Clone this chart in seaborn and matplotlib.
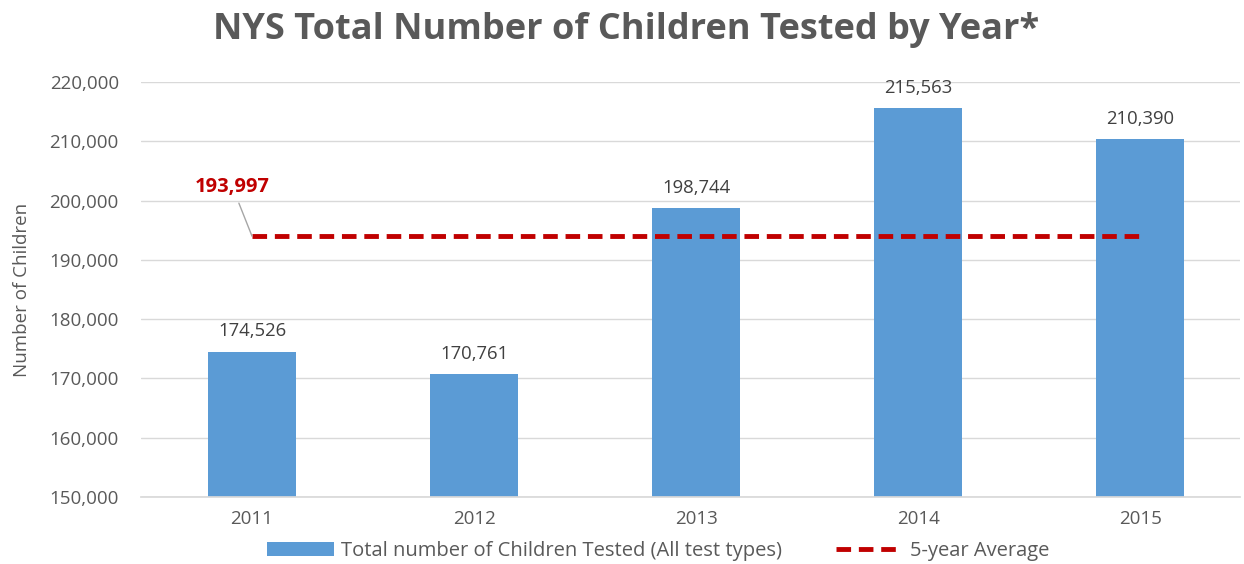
import matplotlib
matplotlib.use("Agg")
import matplotlib.pyplot as plt
import seaborn as sns
import pandas as pd
from matplotlib.ticker import FuncFormatter
from matplotlib.lines import Line2D
from matplotlib.patches import Patch

years = ["2011", "2012", "2013", "2014", "2015"]
tested = [174526, 170761, 198744, 215563, 210390]
five_year_avg = 193997
y_ticks = [150000, 160000, 170000, 180000, 190000, 200000, 210000, 220000]

bar_label = "Total number of Children Tested (All test types)"
avg_label = "5-year Average"
title = "NYS Total Number of Children Tested by Year*"

sns.set_theme(style="white")
plt.rcParams["font.family"] = ["Open Sans", "DejaVu Sans"]

GRAY = "#595959"
BLUE = "#5B9BD5"
RED = "#C00000"

df = pd.DataFrame({"year": years, "tested": tested})

fig = plt.figure(figsize=(12.44, 5.64), dpi=100)
ax = fig.add_axes([141 / 1244, 1 - 497 / 564, (1240 - 141) / 1244, (497 - 82) / 564])

sns.barplot(data=df, x="year", y="tested", color=BLUE, width=0.4,
            saturation=1, linewidth=0, ax=ax, zorder=2)

ax.set_ylim(y_ticks[0], y_ticks[-1])
ax.set_xlim(-0.5, 4.45)
ax.set_yticks(y_ticks)
ax.yaxis.set_major_formatter(FuncFormatter(lambda v, p: f"{int(v):,}"))
ax.grid(axis="y", color="#D9D9D9", linewidth=1, zorder=0)
ax.set_axisbelow(True)
for s in ["top", "right", "left"]:
    ax.spines[s].set_visible(False)
ax.spines["bottom"].set_color("#D9D9D9")
ax.tick_params(axis="both", colors=GRAY, labelsize=13.5, length=0)
ax.tick_params(axis="y", pad=16)
ax.tick_params(axis="x", pad=9)
ax.set_xlabel("")
ax.set_ylabel("Number of Children", color=GRAY, fontsize=13.5, labelpad=13)

# value labels above each bar
for i, v in enumerate(tested):
    ax.annotate(f"{v:,}", (i, v), xytext=(0, 8), textcoords="offset points",
                ha="center", va="bottom", color="#404040", fontsize=13.3, clip_on=False)

# five-year average line
ax.hlines(five_year_avg, 0, len(years) - 1, colors=RED, linestyles=(0, (3, 1.6)),
          linewidth=3.5, zorder=3)
ax.annotate(f"{five_year_avg:,}", xy=(0, five_year_avg), xytext=(-14, 28),
            textcoords="offset points", ha="center", va="bottom",
            color=RED, fontsize=14.5, fontweight="bold",
            arrowprops=dict(arrowstyle="-", color="#A6A6A6", lw=1,
                            shrinkA=2, shrinkB=0))

fig.text(0.503, 1 - 30 / 564, title, ha="center", va="center",
         color=GRAY, fontsize=26, fontweight="bold")

handles = [Patch(facecolor=BLUE, edgecolor="none"),
           Line2D([0], [0], color=RED, lw=3.5, linestyle=(0, (3, 1.6)))]
fig.legend(handles, [bar_label, avg_label], loc="center",
           bbox_to_anchor=(0.529, 1 - 551 / 564),
           ncol=2, frameon=False, fontsize=14.5, labelcolor=GRAY,
           handlelength=3.3, columnspacing=2.7, handletextpad=0.35)

fig.savefig("out.png", dpi=100, facecolor="white")
